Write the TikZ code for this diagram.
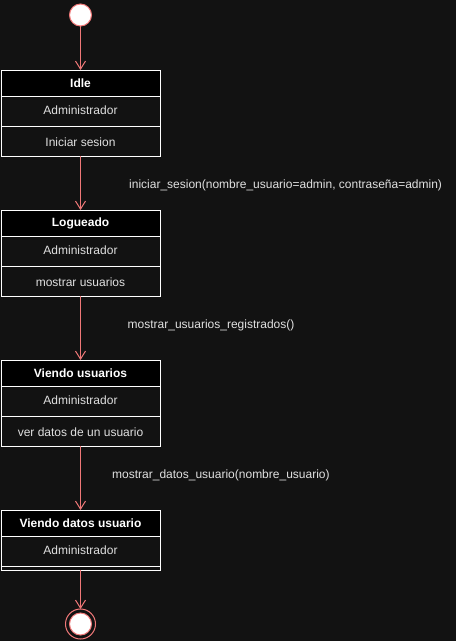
\documentclass[tikz,border=0pt]{standalone}
\usepackage{fontspec}
\setmainfont{Liberation Sans}
\usetikzlibrary{arrows.meta}
\definecolor{bg}{HTML}{121212}
\definecolor{edge}{HTML}{F07878}
\definecolor{txt}{HTML}{E0E0E0}
\newcommand{\lowtxt}[1]{\raisebox{-2pt}[9pt][3pt]{#1}}
\newcommand{\midtxt}[1]{\raisebox{0pt}[9pt][3pt]{#1}}
\begin{document}
\begin{tikzpicture}[x=1pt,y=-1pt,
  hdr/.style={draw=white, fill=black, text=white, font=\bfseries\fontsize{12}{14}\selectfont, minimum width=159pt, minimum height=26pt, inner sep=0pt, outer sep=0pt, line width=1pt},
  part/.style={draw=white, fill=bg, text=txt, font=\fontsize{12}{14}\selectfont, minimum width=159pt, minimum height=30pt, inner sep=0pt, outer sep=0pt, line width=1pt},
  thin/.style={draw=white, fill=bg, minimum width=159pt, minimum height=4pt, inner sep=0pt, outer sep=0pt, line width=1pt},
  initst/.style={circle, draw=edge, fill=white, minimum size=22pt, inner sep=0pt, outer sep=0pt, line width=1pt},
  finst/.style={circle, draw=edge, fill=bg, minimum size=30pt, inner sep=0pt, outer sep=0pt, line width=1pt},
  conn/.style={draw=edge, line width=1pt, -{Straight Barb[length=8pt,width=10pt]}},
  lbl/.style={text=txt, font=\fontsize{12}{14}\selectfont, inner sep=0pt, anchor=west}]
\fill[bg] (0,0) rectangle (456,641);
\useasboundingbox (0,0) rectangle (456,641);

\node[initst] (init) at (80.5,15) {};

\node[hdr] (h1) at (80.5,83) {Idle};
\node[part] (a1) at (80.5,111) {\midtxt{Administrador}};
\node[part] (b1) at (80.5,141) {\lowtxt{Iniciar sesion}};

\node[hdr] (h2) at (80.5,223) {Logueado};
\node[part] (a2) at (80.5,251) {\midtxt{Administrador}};
\node[part] (b2) at (80.5,281) {\lowtxt{mostrar usuarios}};

\node[hdr] (h3) at (80.5,373) {Viendo usuarios};
\node[part] (a3) at (80.5,401) {\midtxt{Administrador}};
\node[part] (b3) at (80.5,431) {\lowtxt{ver datos de un usuario}};

\node[hdr] (h4) at (80.5,523) {Viendo datos usuario};
\node[part] (a4) at (80.5,551) {\midtxt{Administrador}};
\node[thin] (b4) at (80.5,568) {};

\node[finst] (fin) at (80.5,624) {};
\node[initst] (fincore) at (80.5,624) {};

\draw[conn] (init) -- (h1);
\draw[conn] (b1) -- (h2);
\draw[conn] (b2) -- (h3);
\draw[conn] (b3) -- (h4);
\draw[conn] (b4) -- (fin);

\node[lbl] (l1) at (129,185) {iniciar\_sesion(nombre\_usuario=admin, contraseña=admin)};
\node[lbl] (l2) at (127.5,325) {mostrar\_usuarios\_registrados()};
\node[lbl] (l3) at (112,475) {mostrar\_datos\_usuario(nombre\_usuario)};
\end{tikzpicture}
\end{document}
